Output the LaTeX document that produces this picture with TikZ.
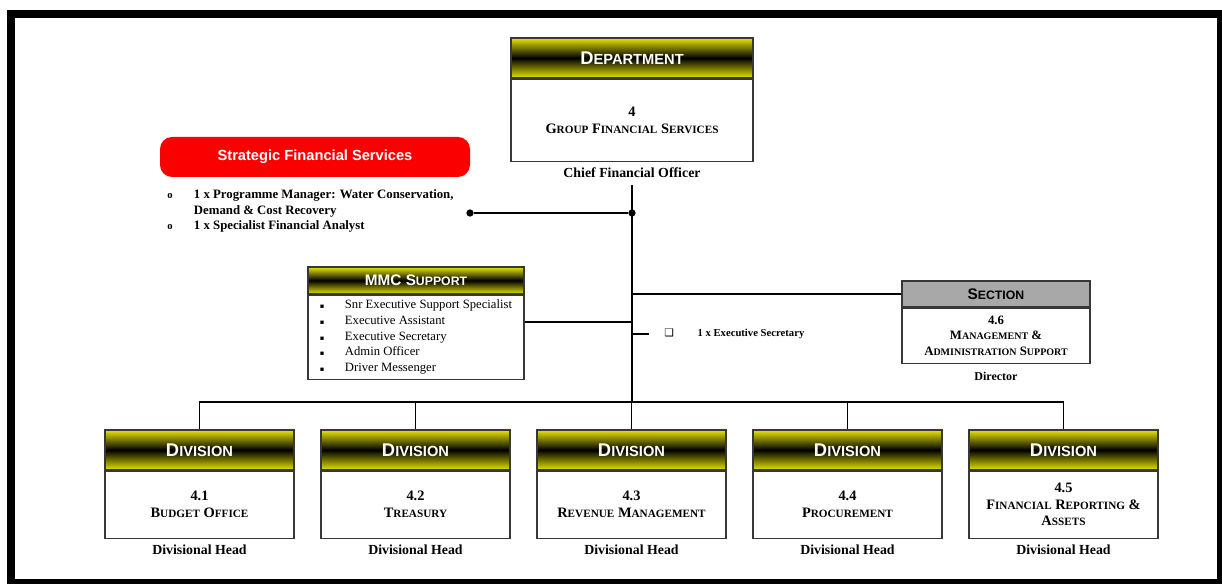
\documentclass[tikz,border=0pt]{standalone}
\usepackage{fontspec}
\setmainfont{Liberation Serif}
\newfontfamily\hdfont{Liberation Sans}
\newfontfamily\symfont{DejaVu Sans}
\usetikzlibrary{positioning}

\definecolor{hdyel}{RGB}{232,230,0}
\definecolor{secgray}{RGB}{168,168,168}
\definecolor{boxline}{RGB}{55,55,55}
\definecolor{sfsred}{RGB}{250,0,0}

% hand made small caps
\newcommand\hsc[2]{#1{\fontsize{11}{12}\selectfont #2}}
\newcommand\msc[2]{#1{\fontsize{9.2}{11}\selectfont #2}}
\newcommand\bsc[2]{#1{\fontsize{8.4}{10}\selectfont #2}}
\newcommand\ssc[2]{#1{\fontsize{7.5}{9}\selectfont #2}}

\begin{document}
\begin{tikzpicture}[x=0.75pt, y=-0.75pt,
    hdr/.style={draw=boxline, line width=0.8pt, top color=hdyel, bottom color=hdyel,
                middle color=black, text=white, inner sep=0pt,
                font=\hdfont\bfseries\fontsize{13.8}{15}\selectfont},
    bodybox/.style={draw=boxline, line width=0.8pt, fill=white, align=center, inner sep=2pt,
                    font=\bfseries\fontsize{10.8}{13}\selectfont},
    divh/.style={hdr, minimum width=141.75pt, minimum height=30pt},
    divb/.style={bodybox, minimum width=141.75pt, minimum height=50.25pt},
    lbl/.style={font=\bfseries\fontsize{10.4}{12}\selectfont, inner sep=0pt},
    link/.style={line width=0.8pt},
    dot/.style={circle, fill, inner sep=0pt, minimum size=5.5pt},
  ]
  \useasboundingbox (0,0) rectangle (1222,584);
  \fill[black] (7,10) rectangle (1222,584);
  \fill[white] (15,18) rectangle (1217,579);

  % department
  \node[hdr, minimum width=181.5pt, minimum height=30pt] (dh) at (632,58) {\hsc{D}{EPARTMENT}};
  \node[bodybox, minimum width=181.5pt, minimum height=61.5pt, below=0pt of dh] (db)
    {4\\\bsc{G}{ROUP} \bsc{F}{INANCIAL} \bsc{S}{ERVICES}};
  \node[lbl] (dl) at (632,173) {Chief Financial Officer};

  % strategic
  \node[fill=sfsred, rounded corners=9pt, minimum width=232.5pt, minimum height=30pt,
        text=white, font=\hdfont\bfseries\fontsize{11}{12}\selectfont] (sfs) at (315,157)
    {Strategic Financial Services};
  \node[anchor=west, inner sep=0pt, font=\bfseries\fontsize{9.6}{11.6}\selectfont] (sfl) at (167,211)
    {\begin{tabular}{@{}l@{}l@{}}
      \makebox[20pt][l]{\fontsize{8}{8}\selectfont o} & 1 x Programme Manager: Water Conservation,\\
       & Demand \& Cost Recovery\\
      \makebox[20pt][l]{\fontsize{8}{8}\selectfont o} & 1 x Specialist Financial Analyst
     \end{tabular}};

  % mmc support
  \node[hdr, minimum width=162pt, minimum height=20.25pt,
        font=\hdfont\bfseries\fontsize{11.5}{13}\selectfont] (mh) at (416,280.5) {\msc{MMC S}{UPPORT}};
  \node[bodybox, minimum width=162pt, minimum height=61.5pt, below=0pt of mh,
        font=\fontsize{9.5}{11.8}\selectfont] (mb)
    {\begin{tabular}{@{}l@{}l@{}}
      \makebox[18.75pt][l]{\symfont\tiny ▪} & Snr Executive Support Specialist\\
      \makebox[18.75pt][l]{\symfont\tiny ▪} & Executive Assistant\\
      \makebox[18.75pt][l]{\symfont\tiny ▪} & Executive Secretary\\
      \makebox[18.75pt][l]{\symfont\tiny ▪} & Admin Officer\\
      \makebox[18.75pt][l]{\symfont\tiny ▪} & Driver Messenger
     \end{tabular}};

  % section
  \node[hdr, top color=secgray, bottom color=secgray, middle color=secgray, text=black,
        minimum width=141pt, minimum height=19.5pt,
        font=\hdfont\bfseries\fontsize{11.5}{13}\selectfont] (sh) at (996,294) {\msc{S}{ECTION}};
  \node[bodybox, minimum width=141pt, minimum height=41.25pt, below=0pt of sh,
        font=\bfseries\fontsize{9.6}{11.6}\selectfont] (sb)
    {4.6\\\ssc{M}{ANAGEMENT} \&\\\ssc{A}{DMINISTRATION} \ssc{S}{UPPORT}};
  \node[lbl, font=\bfseries\fontsize{9}{11}\selectfont] (sl) at (996,376) {Director};

  \node[anchor=west, inner sep=0pt, font=\bfseries\fontsize{8}{10}\selectfont] (es) at (664,334)
    {\makebox[25pt][l]{\symfont\fontsize{8}{10}\selectfont ❑}1 x Executive Secretary};

  % divisions
  \node[divh] (d1h) at (199.5,450) {\hsc{D}{IVISION}};
  \node[divb, below=0pt of d1h] (d1b) {4.1\\\bsc{B}{UDGET} \bsc{O}{FFICE}};
  \node[lbl] (d1l) at (199.5,550) {Divisional Head};

  \node[divh] (d2h) at (415.5,450) {\hsc{D}{IVISION}};
  \node[divb, below=0pt of d2h] (d2b) {4.2\\\bsc{T}{REASURY}};
  \node[lbl] (d2l) at (415.5,550) {Divisional Head};

  \node[divh] (d3h) at (631.5,450) {\hsc{D}{IVISION}};
  \node[divb, below=0pt of d3h] (d3b) {4.3\\\bsc{R}{EVENUE} \bsc{M}{ANAGEMENT}};
  \node[lbl] (d3l) at (631.5,550) {Divisional Head};

  \node[divh] (d4h) at (847.5,450) {\hsc{D}{IVISION}};
  \node[divb, below=0pt of d4h] (d4b) {4.4\\\bsc{P}{ROCUREMENT}};
  \node[lbl] (d4l) at (847.5,550) {Divisional Head};

  \node[divh] (d5h) at (1063.5,450) {\hsc{D}{IVISION}};
  \node[divb, below=0pt of d5h, font=\bfseries\fontsize{10.8}{12.4}\selectfont] (d5b)
    {4.5\\\bsc{F}{INANCIAL} \bsc{R}{EPORTING} \&\\\bsc{A}{SSETS}};
  \node[lbl] (d5l) at (1063.5,550) {Divisional Head};

  % lines
  \coordinate (tp) at (632,185);
  \coordinate (bus) at (632,402);
  \coordinate (j2) at (632,322);
  \coordinate (j3) at (632,334);
  \coordinate (j4) at (632,294);
  \coordinate (esl) at (649,334);
  \node[dot] (j1) at (632,213) {};
  \node[dot] (sd) at (470,213) {};

  \draw[link] (tp) -- (bus);
  \draw[link] (sd) -- (j1);
  \draw[link] (j2) -- (j2 -| mb.east);
  \draw[link] (j4) -- (sh.west);
  \draw[link] (j3) -- (esl);
  \draw[link] (d1h.north) |- (bus) -| (d5h.north);
  \draw[link] (d2h.north) -- (d2h.north |- bus);
  \draw[link] (d3h.north) -- (d3h.north |- bus);
  \draw[link] (d4h.north) -- (d4h.north |- bus);
\end{tikzpicture}
\end{document}
